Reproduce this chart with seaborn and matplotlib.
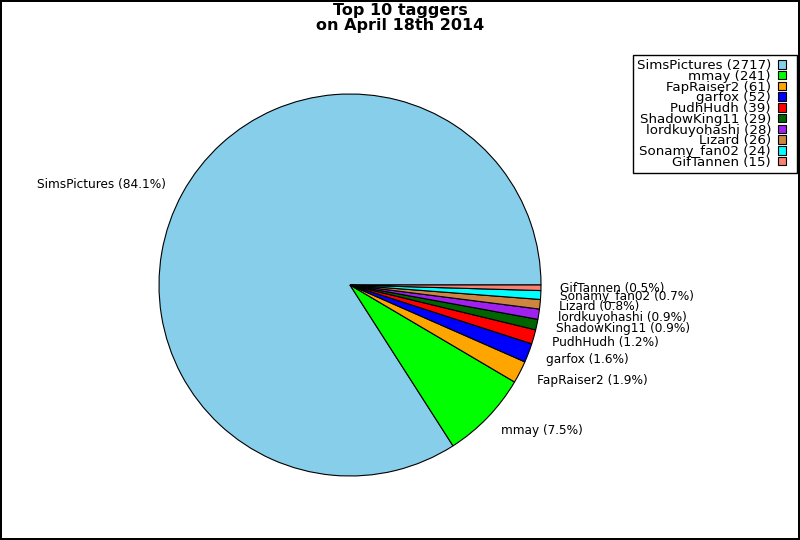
import matplotlib
matplotlib.use("Agg")
import matplotlib.pyplot as plt
from matplotlib.patches import Rectangle, Wedge
from matplotlib.legend_handler import HandlerPatch
import seaborn as sns

users = ["SimsPictures", "mmay", "FapRaiser2", "garfox", "PudhHudh",
         "ShadowKing11", "lordkuyohashi", "Lizard", "Sonamy_fan02", "GifTannen"]
counts = [2717, 241, 61, 52, 39, 29, 28, 26, 24, 15]
colors = ["#87CEEB", "#00FF00", "#FFA500", "#0000FF", "#FF0000",
          "#006400", "#A020F0", "#CD853F", "#00FFFF", "#FA8072"]
title_lines = ["Top 10 taggers", "on April 18th 2014"]

sns.set_style("white")
plt.rcParams["font.family"] = ["DejaVu Sans"]
plt.rcParams["text.color"] = "black"

total = sum(counts)
pie_labels = [f"{u} ({c / total * 100:.1f}%)" for u, c in zip(users, counts)]
legend_labels = [f"{u} ({c})" for u, c in zip(users, counts)]

fig = plt.figure(figsize=(8, 5.4), dpi=100)
fig.patch.set_facecolor("white")
fig.patch.set_edgecolor("black")
fig.patch.set_linewidth(1.5)

S = 477.5
cx, cy = 350, 285
ax = fig.add_axes([(cx - S / 2) / 800, 1 - (cy + S / 2) / 540, S / 800, S / 540])
wedges, texts = ax.pie(counts, labels=pie_labels, colors=colors, startangle=0,
                       counterclock=True, labeldistance=1.1,
                       wedgeprops=dict(edgecolor="black", linewidth=0.8),
                       textprops=dict(fontsize=8.7, color="black"))
ax.set_aspect("equal")

fig.text(0.5, 1 - 3 / 540, "\n".join(title_lines), ha="center", va="top",
         fontsize=11.5, fontweight="bold", linespacing=1.0, color="black")


def square_patch(legend, orig_handle, xdescent, ydescent, width, height, fontsize):
    return Rectangle((-xdescent, -ydescent), height, height)


leg = fig.legend(wedges, legend_labels, loc="upper right",
                 bbox_to_anchor=(797 / 800, 1 - 55 / 540),
                 bbox_transform=fig.transFigure, borderaxespad=0,
                 markerfirst=False, fontsize=9.6, handlelength=1.125,
                 handleheight=0.6, handletextpad=0.525, labelspacing=-0.167,
                 borderpad=0.3, fancybox=False, shadow=False, framealpha=1,
                 handler_map={Wedge: HandlerPatch(patch_func=square_patch)})
for h in leg.legend_handles:
    h.set_edgecolor("black")
    h.set_linewidth(0.8)
leg.get_frame().set_edgecolor("black")
leg.get_frame().set_linewidth(1.0)

fig.savefig("out.png", dpi=100, facecolor=fig.get_facecolor(),
            edgecolor=fig.get_edgecolor())
